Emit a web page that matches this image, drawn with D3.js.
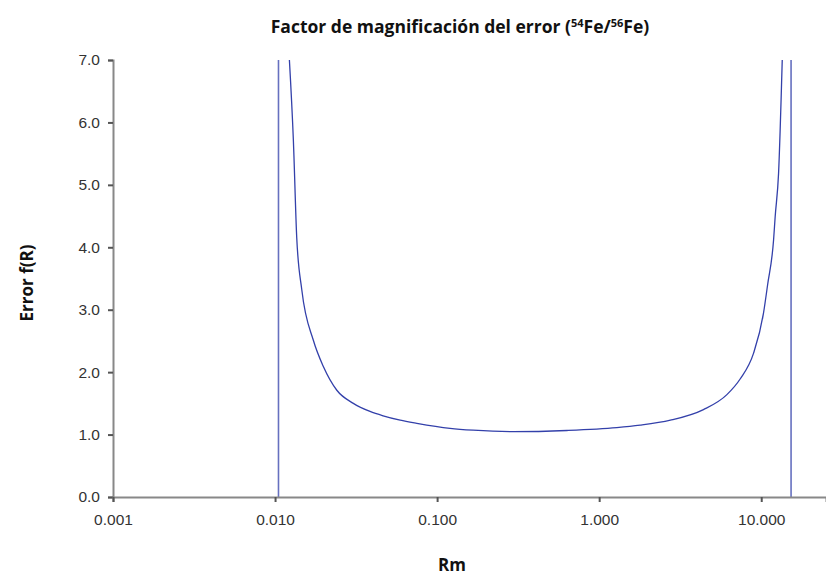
<!DOCTYPE html>
<html>
<head>
<meta charset="utf-8">
<script src="https://cdn.jsdelivr.net/npm/d3@7"></script>
<style>
  body { margin: 0; background: #fff; }
  .tick text { font-family: "Liberation Sans", Arial, sans-serif; font-size: 15.5px; fill: #333; }
  .lbl { font-family: "Open Sans", "Noto Sans", sans-serif; font-weight: bold; font-size: 17px; fill: #111; }
</style>
</head>
<body>
<div id="chart"></div>
<script>
// Rm values (x) and error magnification f(R) (y) along the curve
const rValues = [0.01226, 0.01297, 0.01361, 0.01462, 0.01723, 0.01986,
    0.02405, 0.03041, 0.03855, 0.04645, 0.05917, 0.07499, 0.1202, 0.1667, 0.2944,
    0.6324, 1.285, 1.791, 2.75, 4.40, 6.14, 7.41, 8.96, 10.32, 10.95, 11.92, 12.19,
    12.79, 13.48];
const fValues = [7.0, 5.72, 4.15, 3.32, 2.51, 2.09,
    1.71, 1.50, 1.37, 1.30, 1.23, 1.18, 1.10, 1.07, 1.046,
    1.065, 1.11, 1.15, 1.23, 1.40, 1.64, 1.89, 2.30, 2.94, 3.40, 4.12, 4.49,
    5.18, 7.0];
// Rm where f(R) jumps across the plot (poles)
const poleValues = [0.0105, 15.28];

const xTicks = [0.001, 0.01, 0.1, 1, 10];
const yTicks = [0, 1, 2, 3, 4, 5, 6, 7];

const width = 826, height = 572;
const margin = {left: 113, right: 0, top: 60, bottom: 75};
const innerWidth = width - margin.left - margin.right;
const innerHeight = height - margin.top - margin.bottom;

const x = d3.scaleLog()
    .domain([0.001, 25.1])
    .range([0, innerWidth]);
const y = d3.scaleLinear()
    .domain([0, 7])
    .range([innerHeight, 0]);

const svg = d3.select("#chart").append("svg")
    .attr("width", width)
    .attr("height", height);

svg.append("defs").append("clipPath").attr("id", "plot")
  .append("rect")
    .attr("width", innerWidth)
    .attr("height", innerHeight);

const g = svg.append("g")
    .attr("transform", "translate(" + margin.left + "," + margin.top + ")");

const lineColor = "#3340aa";
const pts = rValues.map((r, i) => [r, fValues[i]]);
const line = d3.line()
    .x(d => x(d[0]))
    .y(d => y(d[1]))
    .curve(d3.curveMonotoneX);

g.append("path")
    .datum(pts)
    .attr("clip-path", "url(#plot)")
    .attr("d", line)
    .attr("fill", "none")
    .attr("stroke", lineColor)
    .attr("stroke-width", 1.3);

g.selectAll(".pole")
    .data(poleValues)
  .enter().append("line")
    .attr("class", "pole")
    .attr("x1", d => x(d))
    .attr("x2", d => x(d))
    .attr("y1", y(0))
    .attr("y2", y(7))
    .attr("stroke", lineColor)
    .attr("stroke-opacity", 0.75)
    .attr("stroke-width", 1.6);

const yAxis = g.append("g")
    .call(d3.axisLeft(y).tickValues(yTicks).tickFormat(d3.format(".1f")).tickSize(5).tickPadding(8));
const xAxis = g.append("g")
    .attr("transform", "translate(0," + innerHeight + ")")
    .call(d3.axisBottom(x).tickValues(xTicks).tickFormat(d3.format(".3f")).tickSize(5).tickPadding(12));

[yAxis, xAxis].forEach(a => {
    a.select(".domain").attr("stroke", "#888").attr("stroke-width", 2);
    a.selectAll(".tick line").attr("stroke", "#555").attr("stroke-width", 2);
});

const title = svg.append("text")
    .attr("class", "lbl")
    .attr("x", 460)
    .attr("y", 33)
    .attr("text-anchor", "middle")
    .style("font-size", "17.5px");
title.append("tspan").text("Factor de magnificación del error (");
title.append("tspan").text("54").attr("dy", -6).style("font-size", "11px");
title.append("tspan").text("Fe/").attr("dy", 6);
title.append("tspan").text("56").attr("dy", -6).style("font-size", "11px");
title.append("tspan").text("Fe)").attr("dy", 6);

svg.append("text")
    .attr("class", "lbl")
    .attr("transform", "translate(33,283) rotate(-90)")
    .attr("text-anchor", "middle")
    .text("Error f(R)");

svg.append("text")
    .attr("class", "lbl")
    .attr("x", 452)
    .attr("y", 571)
    .attr("text-anchor", "middle")
    .text("Rm");
</script>
</body>
</html>
